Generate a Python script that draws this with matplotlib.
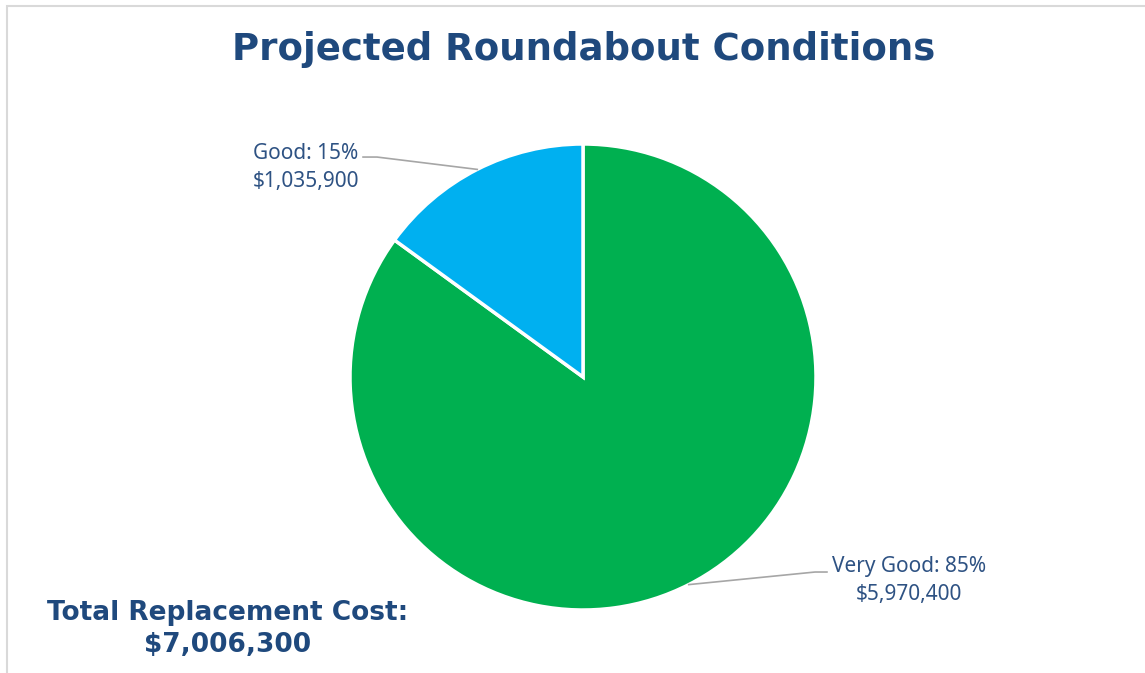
import numpy as np
import matplotlib.pyplot as plt
from matplotlib.patches import Rectangle

categories = ["Very Good", "Good"]
shares = [85, 15]
costs = [5970400, 1035900]
total_cost = 7006300
colors = ["#00B050", "#00B0F0"]

W, H = 1145, 673
fig = plt.figure(figsize=(W / 100, H / 100), dpi=100)

# light frame, cut off at the right and bottom like the screenshot
fig.patches.append(Rectangle((7 / W, -0.1), 1.2, (H - 6) / H + 0.1, transform=fig.transFigure,
                             fill=False, edgecolor="#D9D9D9", linewidth=1.5))

cx, cy, r = 583, 377, 233
ax = fig.add_axes([(cx - r) / W, (H - cy - r) / H, 2 * r / W, 2 * r / H])
wedges, _ = ax.pie(shares, colors=colors, startangle=90, counterclock=False,
                   wedgeprops=dict(edgecolor="white", linewidth=2.5))
ax.set_xlim(-1, 1)
ax.set_ylim(-1, 1)
ax.set_aspect("equal")
ax.axis("off")

label_col = "#2E5283"
lead_col = "#A6A6A6"
# (elbow, text end, text anchor) in pie units
layout = {
    "Very Good": ((0.996, -0.837), (1.047, -0.837), (1.40, -0.875)),
    "Good": ((-0.884, 0.944), (-0.944, 0.944), (-1.19, 0.90)),
}
for w, name, pct, cost in zip(wedges, categories, shares, costs):
    mid = np.deg2rad((w.theta1 + w.theta2) / 2)
    edge = (np.cos(mid), np.sin(mid))
    elbow, end, txt = layout[name]
    ax.plot([edge[0], elbow[0], end[0]], [edge[1], elbow[1], end[1]],
            color=lead_col, linewidth=1.2, clip_on=False)
    ax.text(txt[0], txt[1], f"{name}: {pct}%\n${cost:,}", ha="center", va="center",
            fontsize=15, color=label_col, family="Noto Sans", linespacing=1.45,
            clip_on=False)

fig.text(584 / W, 1 - 50 / H, "Projected Roundabout Conditions", ha="center", va="center",
         fontsize=26.7, fontweight="bold", color="#1F497D", family="DejaVu Sans")
fig.text(228 / W, 1 - 629 / H, f"Total Replacement Cost:\n${total_cost:,}", ha="center",
         va="center", fontsize=19, fontweight="bold", color="#1F497D", family="DejaVu Sans",
         linespacing=1.25)

fig.savefig("out.png", dpi=100)
